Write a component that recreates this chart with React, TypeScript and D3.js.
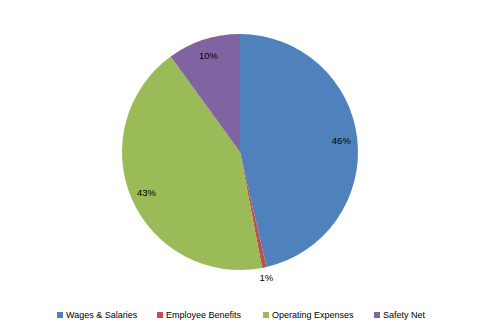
import React from "react";
import * as d3 from "d3";

const categories = ["Wages & Salaries", "Employee Benefits", "Operating Expenses", "Safety Net"];
const values = [46.4, 0.6, 43.0, 10.0];
const colors = ["#4F81BD", "#C0504D", "#9BBB59", "#8064A2"];
const legendX = [57, 157, 263, 374];

export default function App() {
  const W = 480, H = 333;
  const cx = 240, cy = 152, R = 118;
  const pie = d3.pie<number>().sort(null).value((d) => d);
  const arcs = pie(values);
  const arc = d3.arc<d3.PieArcDatum<number>>().innerRadius(0).outerRadius(R);
  const inLabel = d3.arc<d3.PieArcDatum<number>>().innerRadius(102).outerRadius(102);
  const outLabel = d3.arc<d3.PieArcDatum<number>>().innerRadius(128).outerRadius(128);
  const total = d3.sum(values);
  const font = "'Liberation Sans', Arial, sans-serif";
  return (
    <svg width={W} height={H} style={{ position: "absolute", left: 0, top: 0, background: "#fff" }}>
      <g transform={`translate(${cx},${cy})`}>
        {arcs.map((a, i) => (
          <path key={i} d={arc(a) || ""} fill={colors[i]} />
        ))}
        {arcs.map((a, i) => {
          const pct = (a.data / total) * 100;
          const [x, y] = pct < 3 ? outLabel.centroid(a) : inLabel.centroid(a);
          return (
            <text key={i} x={x} y={y} textAnchor="middle" dominantBaseline="central"
              fontFamily={font} fontSize={9.5} fill="#000">
              {Math.max(1, Math.round(pct))}%
            </text>
          );
        })}
      </g>
      {categories.map((c, i) => (
        <g key={c}>
          <rect x={legendX[i]} y={312} width={6} height={6} fill={colors[i]} />
          <text x={legendX[i] + 9} y={315} dominantBaseline="central" fontFamily={font} fontSize={9} fill="#000">
            {c}
          </text>
        </g>
      ))}
    </svg>
  );
}
